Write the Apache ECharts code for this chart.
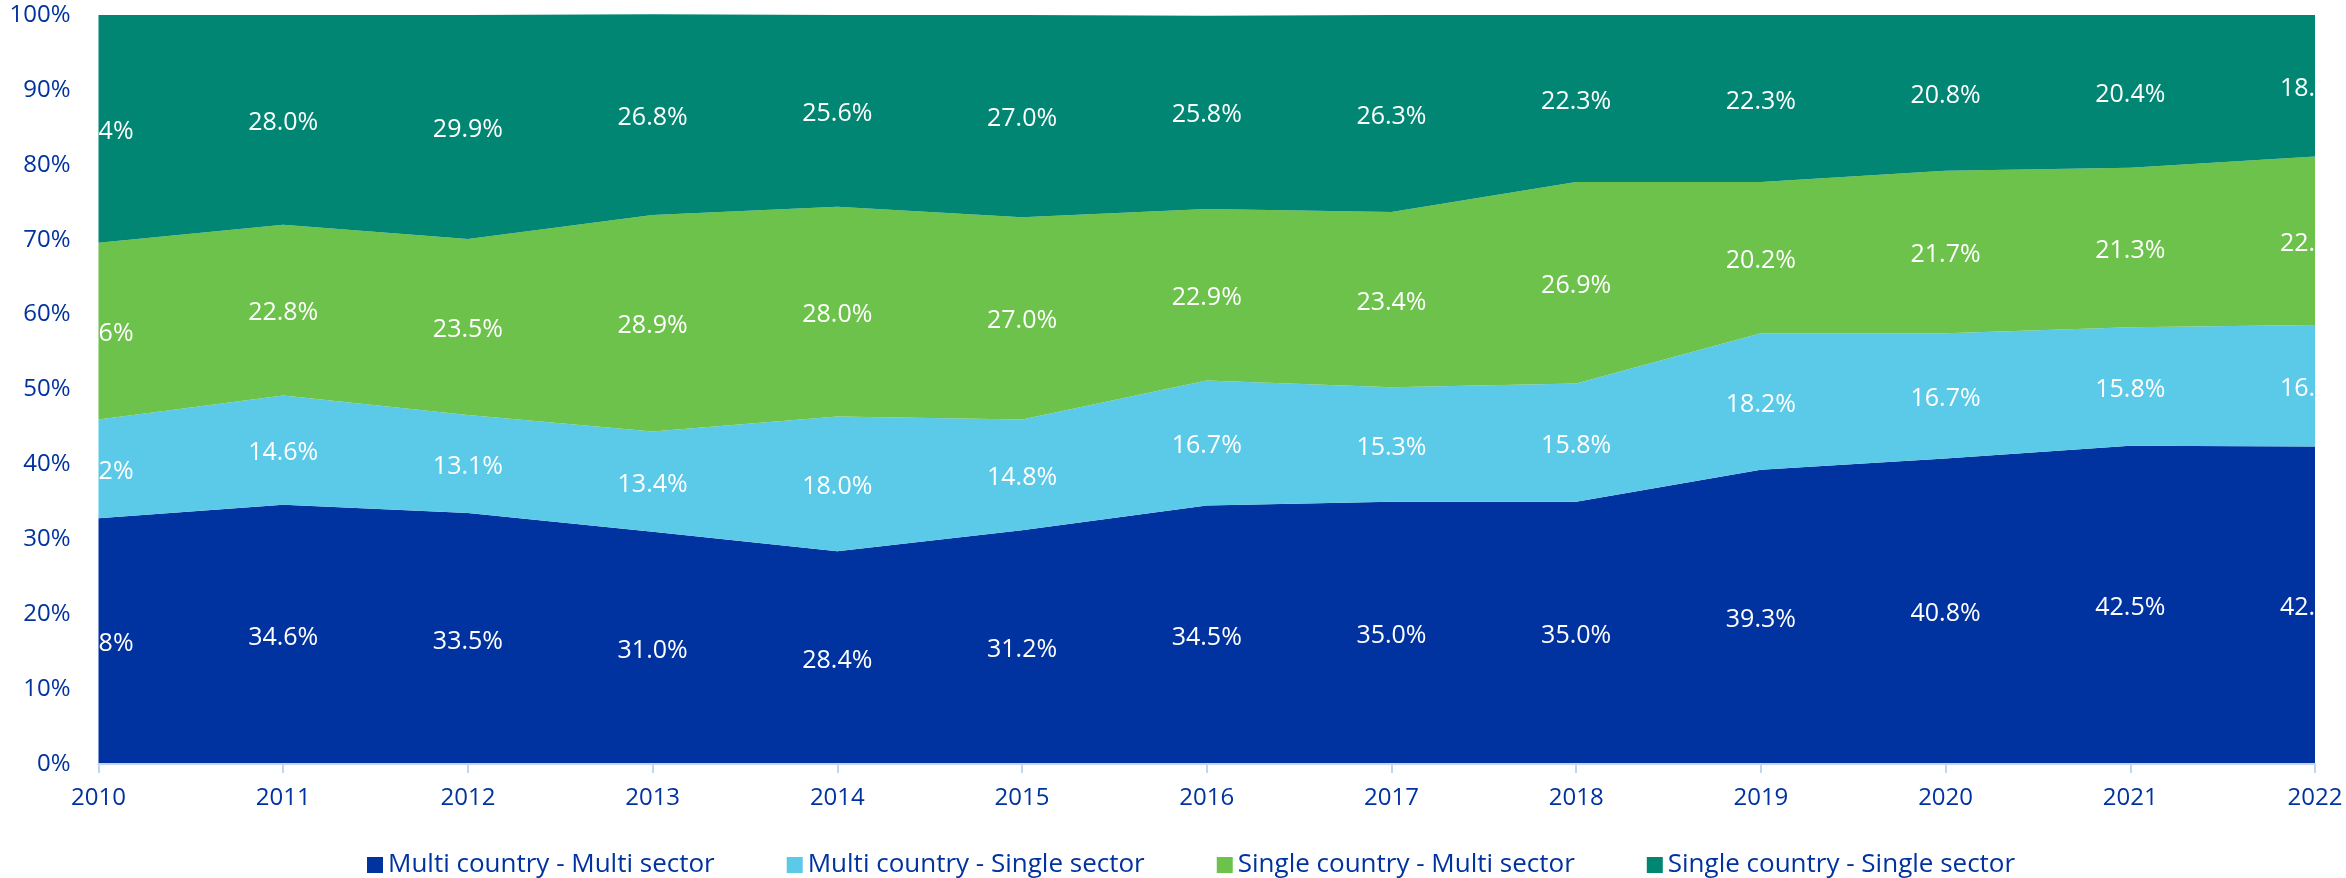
<!DOCTYPE html>
<html>
<head>
<meta charset="utf-8">
<script src="https://cdn.jsdelivr.net/npm/echarts@6/dist/echarts.min.js"></script>
<style>
  html, body { margin: 0; padding: 0; background: #fff; }
  #chart { width: 2346px; height: 878px; }
</style>
</head>
<body>
<div id="chart"></div>
<script>
const years = ["2010", "2011", "2012", "2013", "2014", "2015", "2016", "2017", "2018", "2019", "2020", "2021", "2022"];
const multiMulti = [32.8, 34.6, 33.5, 31.0, 28.4, 31.2, 34.5, 35.0, 35.0, 39.3, 40.8, 42.5, 42.4];
const multiSingle = [13.2, 14.6, 13.1, 13.4, 18.0, 14.8, 16.7, 15.3, 15.8, 18.2, 16.7, 15.8, 16.2];
const singleMulti = [23.6, 22.8, 23.5, 28.9, 28.0, 27.0, 22.9, 23.4, 26.9, 20.2, 21.7, 21.3, 22.5];
const singleSingle = [30.4, 28.0, 29.9, 26.8, 25.6, 27.0, 25.8, 26.3, 22.3, 22.3, 20.8, 20.4, 18.9];
const yTicks = [0, 10, 20, 30, 40, 50, 60, 70, 80, 90, 100];

const W = 2346, H = 878;
const gridLeft = 98.5, gridRight = 31, gridTop = 15, gridBottom = 114;
const plotH = H - gridTop - gridBottom;
const axisColor = "#0033a0";
const font = "'Open Sans', sans-serif";

const chart = echarts.init(document.getElementById("chart"));

// label sits in the middle of its band (a bit lower, like the original)
function bandData(arr) {
  return arr.map((v) => ({
    value: v,
    label: { offset: [0, (v / 100) * plotH / 2 + 3] },
  }));
}

function areaSeries(name, arr, color) {
  return {
    name: name,
    type: "line",
    stack: "total",
    clip: false,
    data: bandData(arr),
    symbol: "circle",
    symbolSize: 0.1,
    showSymbol: true,
    lineStyle: { width: 0 },
    itemStyle: { color: color },
    areaStyle: { color: color, opacity: 1 },
    label: {
      show: true,
      position: "inside",
      color: "#fff",
      fontSize: 25,
      fontFamily: font,
      formatter: (p) => p.value.toFixed(1) + "%",
    },
    emphasis: { disabled: true },
  };
}

chart.setOption({
  animation: false,
  backgroundColor: "#fff",
  grid: { left: gridLeft, right: gridRight, top: gridTop, bottom: gridBottom },
  legend: {
    left: 362,
    top: 847,
    icon: "rect",
    itemWidth: 16,
    itemHeight: 16,
    itemGap: 72,
    textStyle: { color: axisColor, fontSize: 26, fontFamily: font },
    data: [
      "Multi country - Multi sector",
      "Multi country - Single sector",
      "Single country - Multi sector",
      "Single country - Single sector",
    ],
  },
  xAxis: {
    type: "category",
    data: years,
    boundaryGap: false,
    z: 200,
    axisLine: { lineStyle: { color: "#c5d4f2", width: 2 } },
    axisTick: { show: true, length: 9, lineStyle: { color: "#c5d4f2", width: 2 } },
    axisLabel: { color: axisColor, fontSize: 24, fontFamily: font, margin: 22 },
    splitLine: { show: false },
  },
  yAxis: {
    type: "value",
    min: yTicks[0],
    max: yTicks[yTicks.length - 1],
    interval: 10,
    z: 200,
    axisLine: { show: false },
    axisTick: { show: false },
    splitLine: { show: false },
    axisLabel: {
      color: axisColor,
      fontSize: 24,
      fontFamily: font,
      margin: 28,
      formatter: "{value}%",
    },
  },
  // white masks so edge labels are cut at the plot border
  graphic: [
    { type: "rect", z: 100, shape: { x: 0, y: 0, width: gridLeft - 1, height: H - 40 }, style: { fill: "#fff" } },
    { type: "rect", z: 100, shape: { x: W - gridRight, y: 0, width: gridRight, height: H - 40 }, style: { fill: "#fff" } },
    { type: "rect", z: 100, shape: { x: 0, y: 0, width: W, height: gridTop - 1 }, style: { fill: "#fff" } },
  ],
  series: [
    areaSeries("Multi country - Multi sector", multiMulti, "#0033a0"),
    areaSeries("Multi country - Single sector", multiSingle, "#5bc9e8"),
    areaSeries("Single country - Multi sector", singleMulti, "#6cc24a"),
    areaSeries("Single country - Single sector", singleSingle, "#008673"),
  ],
});
</script>
</body>
</html>
